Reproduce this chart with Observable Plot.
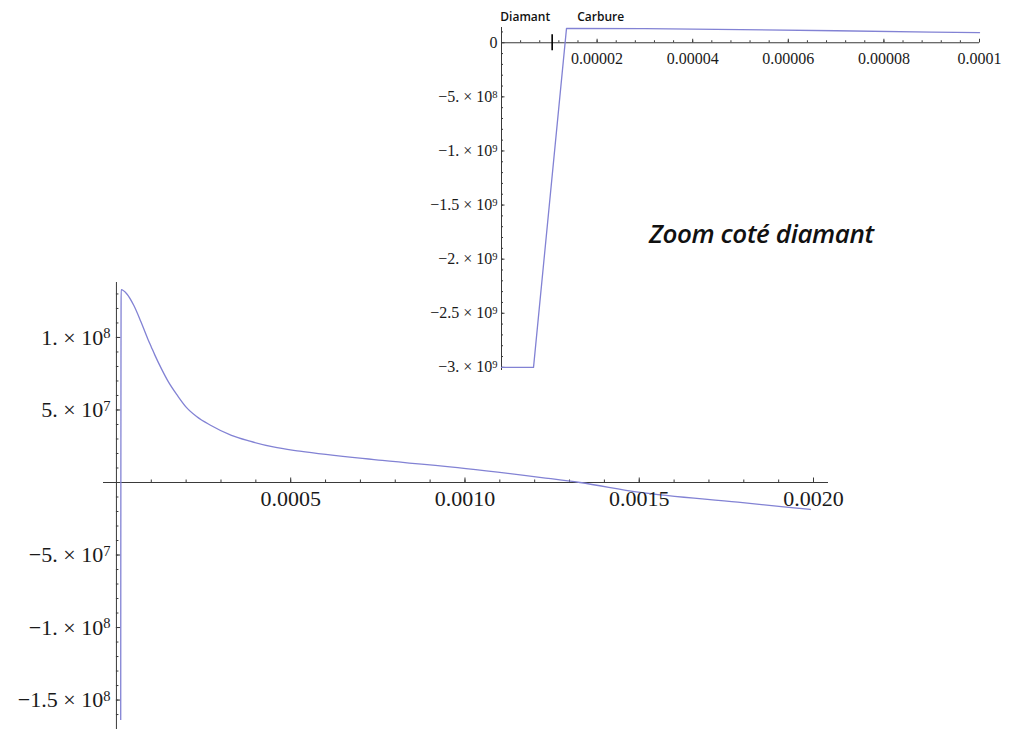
<!DOCTYPE html>
<html><head><meta charset="utf-8">
<script src="https://cdn.jsdelivr.net/npm/d3@7"></script>
<script src="https://cdn.jsdelivr.net/npm/@observablehq/plot@0.6"></script>
<style>
body{margin:0;background:#fff;}
#wrap{position:relative;width:1023px;height:729px;overflow:hidden;background:#fff;}
#main,#inset{position:absolute;top:0;}
#main{left:0;}
#inset{left:400px;}
#note{position:absolute;left:649px;top:215px;font:italic 600 26px "Open Sans";letter-spacing:-0.4px;color:#111;white-space:nowrap;}
</style></head><body>
<div id="wrap"><div id="main"></div><div id="inset"></div><div id="note">Zoom coté diamant</div></div>
<script>
// depth (m) and stress (Pa)
const depth  = [0, 0.0000067, 0.0000136, 0.00003, 0.00005, 0.00007, 0.00009, 0.0001, 0.00011, 0.00013, 0.00015, 0.000175, 0.0002, 0.00023, 0.00027, 0.00033, 0.000383, 0.00045, 0.000526, 0.000763, 0.001003, 0.00122, 0.00133, 0.001497, 0.001783, 0.001991];
const stress = [-3e9, -3e9, 1.33e8, 1.3e8, 1.22e8, 1.11e8, 9.9e7, 9.35e7, 8.8e7, 7.8e7, 6.9e7, 6.0e7, 5.2e7, 4.55e7, 3.95e7, 3.25e7, 2.85e7, 2.45e7, 2.16e7, 1.52e7, 9.6e6, 3.4e6, 0, -6.7e6, -1.36e7, -1.86e7];

const mainXTicks = [0.0005, 0.001, 0.0015, 0.002];
const mainXTickLabels = ["0.0005", "0.0010", "0.0015", "0.0020"];
const mainYTicks = [1e8, 5e7, -5e7, -1e8, -1.5e8];
const mainYTickLabels = ["1. × 10^8", "5. × 10^7", "−5. × 10^7", "−1. × 10^8", "−1.5 × 10^8"];

const insetXTicks = [0.00002, 0.00004, 0.00006, 0.00008, 0.0001];
const insetXTickLabels = ["0.00002", "0.00004", "0.00006", "0.00008", "0.0001"];
const insetYTicks = [0, -5e8, -1e9, -1.5e9, -2e9, -2.5e9, -3e9];
const insetYTickLabels = ["0", "−5. × 10^8", "−1. × 10^9", "−1.5 × 10^9", "−2. × 10^9", "−2.5 × 10^9", "−3. × 10^9"];

const interfaceDepth = 0.0000106;
const materials = ["Diamant", "Carbure"];

const data = depth.map((d, i) => ({depth: d, stress: stress[i]}));
const insetData = data.filter(d => d.depth <= 0.0001);

const lineColor = "#8282d4";
const axisColor = "#3a3a3a";
const serif = "Liberation Serif";

function supers(svg) {
  d3.select(svg).selectAll("text").each(function() {
    const t = this.textContent;
    if (!t.includes("^")) return;
    const [base, exp] = t.split("^");
    const sel = d3.select(this);
    sel.text(null);
    sel.append("tspan").text(base);
    sel.append("tspan").attr("dy", "-0.42em").attr("font-size", "0.66em").text(exp);
  });
}

const mainMinorX = d3.range(1, 21).map(i => i * 0.0001);
const mainMinorY = d3.range(-16, 14).map(i => i * 1e7).filter(v => v !== 0);

const main = Plot.plot({
  width: 1023, height: 729,
  marginLeft: 103, marginRight: 195, marginTop: 282, marginBottom: 9,
  x: {domain: [-0.0000371, 0.002043], axis: null},
  y: {domain: [-1.641e8, 1.379e8], axis: null},
  style: {background: "transparent", fontFamily: serif, color: "#1a1a1a"},
  marks: [
    Plot.ruleY([0], {stroke: axisColor}),
    Plot.ruleX([0], {stroke: axisColor, insetBottom: -9}),
    Plot.ruleX(mainMinorX, {x: d => d, y1: () => 0, y2: () => 0, insetTop: -2.5, stroke: axisColor}),
    Plot.ruleX(mainXTicks, {x: d => d, y1: () => 0, y2: () => 0, insetTop: -4.5, stroke: axisColor}),
    Plot.ruleY(mainMinorY, {y: d => d, x1: () => 0, x2: () => 0, insetRight: -2.5, stroke: axisColor}),
    Plot.ruleY(mainYTicks, {y: d => d, x1: () => 0, x2: () => 0, insetRight: -4.5, stroke: axisColor}),
    Plot.line(data, {x: "depth", y: "stress", stroke: lineColor, strokeWidth: 1.3, curve: "monotone-x", clip: true}),
    Plot.text(mainXTicks, {x: d => d, y: () => 0, text: (d, i) => mainXTickLabels[i], dy: 16, fontSize: 22, fill: "#1a1a1a"}),
    Plot.text(mainYTicks, {x: () => 0, y: d => d, text: (d, i) => mainYTickLabels[i], textAnchor: "end", dx: -6, fontSize: 22, fill: "#1a1a1a"})
  ]
});
supers(main);
document.getElementById("main").append(main);

const insetMinorX = d3.range(1, 26).map(i => i * 0.000004);
const insetMinorY = d3.range(-30, 2).map(i => i * 1e8).filter(v => v !== 0);

const inset = Plot.plot({
  width: 623, height: 380,
  marginLeft: 101, marginRight: 44, marginTop: 27, marginBottom: 10,
  x: {domain: [0, 0.0001], axis: null},
  y: {domain: [-3.029e9, 1.41e8], axis: null},
  style: {background: "transparent", fontFamily: serif, color: "#1a1a1a"},
  marks: [
    Plot.ruleY([0], {stroke: axisColor}),
    Plot.ruleX([0], {stroke: axisColor}),
    Plot.ruleX(insetMinorX, {x: d => d, y1: () => 0, y2: () => 0, insetTop: -2, stroke: axisColor}),
    Plot.ruleX(insetXTicks, {x: d => d, y1: () => 0, y2: () => 0, insetTop: -3.5, stroke: axisColor}),
    Plot.ruleY(insetMinorY, {y: d => d, x1: () => 0, x2: () => 0, insetRight: -2, stroke: axisColor}),
    Plot.ruleY(insetYTicks, {y: d => d, x1: () => 0, x2: () => 0, insetRight: -3.5, stroke: axisColor}),
    Plot.ruleX([interfaceDepth], {x: d => d, y1: () => 0, y2: () => 0, insetTop: -8, insetBottom: -8, stroke: "#000", strokeWidth: 1.6}),
    Plot.line(insetData, {x: "depth", y: "stress", stroke: lineColor, strokeWidth: 1.3}),
    Plot.text(insetXTicks, {x: d => d, y: () => 0, text: (d, i) => insetXTickLabels[i], dy: 16, fontSize: 16, fill: "#1a1a1a"}),
    Plot.text(insetYTicks, {x: () => 0, y: d => d, text: (d, i) => insetYTickLabels[i], textAnchor: "end", dx: -4, fontSize: 16, fill: "#1a1a1a"}),
    Plot.text([materials[0]], {x: () => interfaceDepth, y: () => 0, text: d => d, textAnchor: "end", dx: -2, dy: -26, fontSize: 12, fontFamily: "Open Sans", fontWeight: 600, fill: "#111"}),
    Plot.text([materials[1]], {x: () => interfaceDepth, y: () => 0, text: d => d, textAnchor: "start", dx: 25, dy: -26, fontSize: 12, fontFamily: "Open Sans", fontWeight: 600, fill: "#111"})
  ]
});
supers(inset);
document.getElementById("inset").append(inset);
</script>
</body></html>
